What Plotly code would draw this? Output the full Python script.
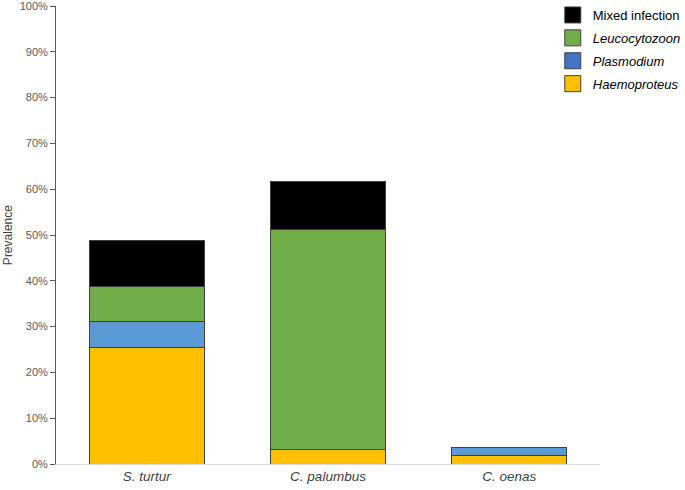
import plotly.graph_objects as go

species = ["<i>S. turtur</i>", "<i>C. palumbus</i>", "<i>C. oenas</i>"]
haemoproteus = [25.4, 3.2, 1.8]
plasmodium = [5.7, 0.0, 1.9]
leucocytozoon = [7.6, 48.1, 0.0]
mixed = [10.2, 10.3, 0.0]

series = [
    ("<i>Haemoproteus</i>", haemoproteus, "#FFC000", "#FFC000"),
    ("<i>Plasmodium</i>", plasmodium, "#5B9BD5", "#4472C4"),
    ("<i>Leucocytozoon</i>", leucocytozoon, "#70AD47", "#70AD47"),
    ("Mixed infection", mixed, "#000000", "#000000"),
]

fig = go.Figure()
for name, vals, col, legcol in series:
    fig.add_trace(go.Bar(
        x=species, y=vals, name=name, showlegend=False,
        marker=dict(color=col, line=dict(color="#404040", width=1)),
    ))
# legend entries (top to bottom: Mixed, Leucocytozoon, Plasmodium, Haemoproteus)
for i, (name, vals, col, legcol) in enumerate(reversed(series)):
    fig.add_trace(go.Scatter(
        x=[None], y=[None], mode="markers", name=name, legendgroup=f"g{i}",
        marker=dict(symbol="square", size=16, color=legcol,
                    line=dict(color="#404040", width=1)),
    ))

fig.add_annotation(
    text="Prevalence", textangle=-90, showarrow=False,
    xref="paper", yref="paper", x=-0.088, y=0.5, xanchor="center", yanchor="middle",
    font=dict(size=12, color="#404040"),
)

fig.update_layout(
    width=685, height=490,
    barmode="stack", bargap=0.366,
    plot_bgcolor="white", paper_bgcolor="white",
    margin=dict(l=56, r=85, t=6, b=26, autoexpand=False),
    font=dict(family="Liberation Sans, Arial, sans-serif", color="#404040"),
    legend=dict(
        xref="container", yref="container",
        x=0.807, y=1.024, xanchor="left", yanchor="top",
        traceorder="grouped", tracegroupgap=3,
        font=dict(size=13, color="#000000"),
        bgcolor="rgba(0,0,0,0)",
    ),
    xaxis=dict(
        showline=True, linecolor="#D9D9D9", linewidth=1,
        ticks="", tickfont=dict(size=13.5, color="#404040"),
        showgrid=False, automargin=False,
    ),
    yaxis=dict(
        range=[0, 100], dtick=10, ticksuffix="%",
        showline=True, linecolor="#595959", linewidth=1,
        ticks="outside", ticklen=5, tickcolor="#595959",
        tickfont=dict(size=11, color="#595959"),
        ticklabeloverflow="allow",
        showgrid=False, zeroline=False, automargin=False,
    ),
)

fig.write_html(
    "out.html",
    config={"displayModeBar": False},
    post_script="document.body.style.margin='0';document.body.style.overflow='hidden';",
)
